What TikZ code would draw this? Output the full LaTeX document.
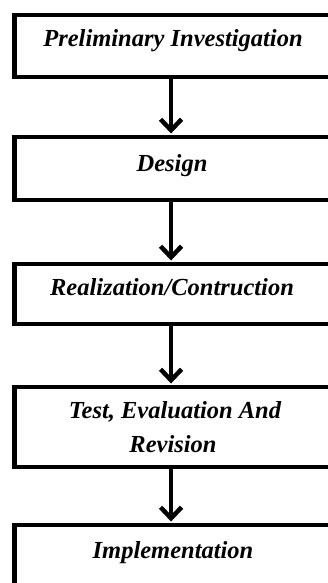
\documentclass[tikz,border=0pt]{standalone}
\usepackage{fontspec}
\setmainfont{Liberation Serif}
\usetikzlibrary{arrows.meta}
\begin{document}
\begin{tikzpicture}[x=1pt,y=-1pt,
  stagebox/.style={draw=black, line width=4.5pt, rectangle, inner sep=0pt, outer sep=0pt, minimum width=320.7pt, fill=white},
  lbl/.style={anchor=base, inner sep=0pt, font=\fontsize{24.5}{34}\selectfont\bfseries\itshape, align=center},
  flow/.style={line width=4.5pt, -{Straight Barb[length=11pt,width=21pt]}, shorten >=3.5pt}
]
\useasboundingbox (0,0) rectangle (328,583);
\clip (0,0) rectangle (328,583);
\fill[white] (0,0) rectangle (328,583);
\node[stagebox, minimum height=62pt] (b1) at (174.65,46) {};
\node[stagebox, minimum height=63pt] (b2) at (174.65,168.5) {};
\node[stagebox, minimum height=60pt] (b3) at (174.65,294) {};
\node[stagebox, minimum height=80pt] (b4) at (174.65,427) {};
\node[stagebox, minimum height=70pt] (b5) at (174.65,560) {};
\node[lbl] (t1) at (173,47) {Preliminary Investigation};
\node[lbl] (t2) at (172,171) {Design};
\node[lbl] (t3) at (172,295) {Realization/Contruction};
\node[lbl] (t4a) at (175,418) {Test, Evaluation And};
\node[lbl] (t4b) at (173,452) {Revision};
\node[lbl] (t5) at (173,558) {Implementation};
\draw[flow] ([xshift=-3.6pt]b1.south) -- ([xshift=-3.6pt]b2.north);
\draw[flow] ([xshift=-3.6pt]b2.south) -- ([xshift=-3.6pt]b3.north);
\draw[flow] ([xshift=-3.6pt]b3.south) -- ([xshift=-3.6pt]b4.north);
\draw[flow] ([xshift=-3.6pt]b4.south) -- ([xshift=-3.6pt]b5.north);
\end{tikzpicture}
\end{document}
